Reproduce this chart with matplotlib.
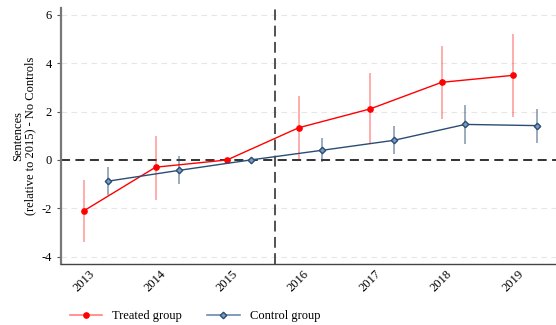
import numpy as np
import matplotlib
matplotlib.use("Agg")
import matplotlib.pyplot as plt
from matplotlib.lines import Line2D

plt.rcParams['font.family'] = ['Liberation Serif', 'DejaVu Serif']

# Data
years = [2013, 2014, 2015, 2016, 2017, 2018, 2019]
treated = [-2.1, -0.3, 0.0, 1.33, 2.11, 3.21, 3.5]
treated_lo = [-3.4, -1.65, 0.0, 0.03, 0.65, 1.68, 1.78]
treated_hi = [-0.85, 1.0, 0.0, 2.63, 3.58, 4.71, 5.23]
control = [-0.88, -0.43, 0.0, 0.4, 0.81, 1.47, 1.42]
control_lo = [-1.45, -1.0, 0.0, -0.1, 0.24, 0.67, 0.72]
control_hi = [-0.3, 0.18, 0.0, 0.91, 1.39, 2.26, 2.11]

red = '#ff0000'
blue = '#2b4d73'
blue_fill = '#7a9cc4'

x = np.array(years, dtype=float)
xc = x + 0.33

fig = plt.figure(figsize=(5.56, 3.25), dpi=100)
ax = fig.add_axes([0.11, 0.188, 0.89, 0.787])

# grid and reference lines
for yv in [-4, -2, 2, 4, 6]:
    ax.axhline(yv, color='#e6e6e6', lw=0.8, ls=(0, (5, 4)), zorder=0)
ax.axhline(0, color='#222222', lw=1.3, ls=(0, (5, 3)), zorder=1)
ax.axvline(2015.67, color='#444444', lw=1.3, ls=(0, (6, 3)), zorder=1)

# confidence intervals
ax.vlines(x, treated_lo, treated_hi, color=red, alpha=0.35, lw=1.3, zorder=2)
ax.vlines(xc, control_lo, control_hi, color=blue, alpha=0.5, lw=1.3, zorder=2)

ax.plot(x, treated, color=red, lw=1.0, marker='o', ms=3.8, zorder=3)
ax.plot(xc, control, color=blue, lw=1.0, marker='D', ms=3.3,
        mfc=blue_fill, mec=blue, mew=1.0, zorder=3)

ax.set_xlim(2012.68, 2019.6)
ax.set_ylim(-4.3, 6.28)
ax.set_xticks(years)
ax.set_xticklabels([str(y) for y in years], rotation=45, fontsize=9)
ax.set_yticks([-4, -2, 0, 2, 4, 6])
ax.set_yticklabels(['-4', '-2', '0', '2', '4', '6'], fontsize=9)
ax.tick_params(axis='x', length=0, pad=3)
ax.tick_params(axis='y', length=3, width=0.8, color='#555555')
ax.set_ylabel('Sentences\n(relative to 2015) - No Controls', fontsize=9,
              linespacing=1.0)

ax.spines['top'].set_visible(False)
ax.spines['right'].set_visible(False)
ax.spines['left'].set_color('#777777')
ax.spines['left'].set_linewidth(1.6)
ax.spines['bottom'].set_color('#444444')
ax.spines['bottom'].set_linewidth(1.0)

handles = [
    Line2D([], [], color='#ff8080', lw=1.2, marker='o', ms=3.8, mfc=red, mec=red),
    Line2D([], [], color='#6f8aa8', lw=1.2, marker='D', ms=3.3, mfc=blue_fill, mec=blue),
]
fig.legend(handles, ['Treated group', 'Control group'], loc='lower left',
           bbox_to_anchor=(0.105, -0.025), ncol=2, frameon=False, fontsize=9,
           handlelength=2.6, columnspacing=2.0)

fig.savefig('out.png', dpi=100)
